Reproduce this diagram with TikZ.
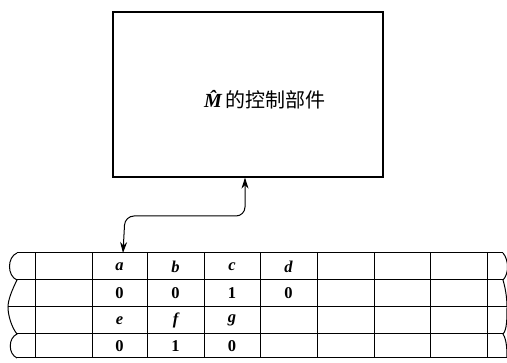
\documentclass[tikz,border=0pt]{standalone}
\usepackage{fontspec}
\setmainfont{Liberation Serif}
\newfontfamily\cjk{Noto Sans CJK SC}
\usetikzlibrary{arrows.meta}
\begin{document}
\begin{tikzpicture}[x=1pt,y=-1pt,
  line/.style={line width=1pt,black},
  cell/.style={font=\fontsize{16.5}{16.5}\selectfont\bfseries,inner sep=0pt},
  lbl/.style={font=\fontsize{16.5}{16.5}\selectfont\bfseries\itshape,inner sep=0pt},
  tips/.style={{Stealth[length=11pt,width=7pt]}-{Stealth[length=11pt,width=7pt]}}]
\useasboundingbox (0,0) rectangle (507,363);
% control box
\node[draw,line width=1.2pt,minimum width=270pt,minimum height=165pt,inner sep=0pt] (ctrl) at (248,94.5) {};
\node[inner sep=0pt] (title) at (265,100) {\fontsize{20}{20}\selectfont{\bfseries\itshape M^^^^0302}\hspace{4pt}\cjk 的控制部件};
% tape horizontal lines
\foreach \y/\xl/\xr in {253/17/503,280/17/503,307/8/507,334/17/503,358/17/507}
  \draw[line] (\xl,\y) -- (\xr,\y);
% vertical lines
\foreach \x in {35,92,147,204,260,317,374,430,487}
  \draw[line] (\x,253) -- (\x,358);
% left torn edge
\draw[line] (17,253) .. controls (7,257) and (7,276) .. (17,280)
  .. controls (12,290) and (8,300) .. (8,307)
  .. controls (8,316) and (12,328) .. (17,334)
  .. controls (8,338) and (8,354) .. (17,358);
% right torn edge
\draw[line] (503,253) .. controls (509,260) and (509,274) .. (503,280)
  .. controls (506,290) and (507,300) .. (507,307)
  .. controls (507,318) and (507,330) .. (503,334)
  .. controls (507,340) and (507,352) .. (507,358);
% cell labels
\node[lbl] (a) at (119.5,266.5) {a};
\node[lbl] (b) at (175.5,266.5) {b};
\node[lbl] (c) at (232,266.5) {c};
\node[lbl] (d) at (288.5,266.5) {d};
\node[cell] (r1) at (119.5,293.5) {0};
\node[cell] (r2) at (175.5,293.5) {0};
\node[cell] (r3) at (232,293.5) {1};
\node[cell] (r4) at (288.5,293.5) {0};
\node[lbl] (e) at (119.5,320.5) {e};
\node[lbl] (f) at (175.5,320.5) {f};
\node[lbl] (g) at (232,320.5) {g};
\node[cell] (s1) at (119.5,346) {0};
\node[cell] (s2) at (175.5,346) {1};
\node[cell] (s3) at (232,346) {0};
% head arrow
\coordinate (head) at (123,253);
\coordinate (up) at (245,177.6);
\draw[line,tips,rounded corners=9pt] (head) -- (125,216) -- (245,216) -- (up);
\end{tikzpicture}
\end{document}
